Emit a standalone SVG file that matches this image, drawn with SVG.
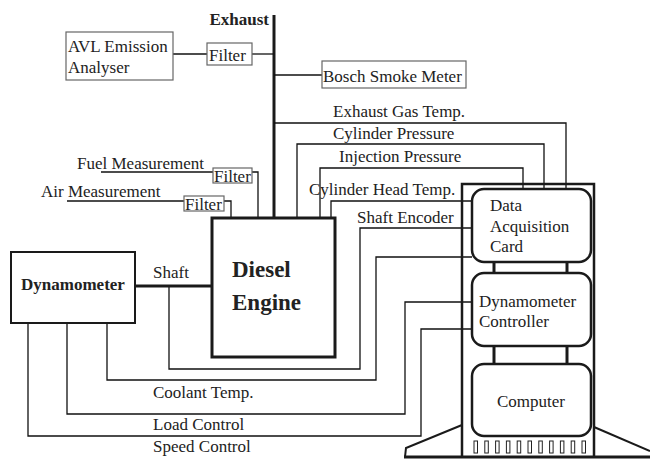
<svg xmlns="http://www.w3.org/2000/svg" width="650" height="459" viewBox="0 0 650 459">
<style>
text{font-family:"Liberation Serif","Times New Roman",serif;font-size:17px;fill:#222}
.b{font-weight:bold}
.big{font-size:23px;font-weight:bold}
.w{fill:none;stroke:#111;stroke-width:1.3}
.gbox{fill:#fff;stroke:#666;stroke-width:1.2}
.thick{fill:none;stroke:#1a1a1a;stroke-width:3}
.rb{fill:#fff;stroke:#1a1a1a;stroke-width:2.5}
.tw{fill:none;stroke:#1a1a1a;stroke-width:2.5}
.slot{fill:#fff;stroke:#222;stroke-width:1}
</style>
<rect width="650" height="459" fill="#fff"/>

<g id="connectors">
  <line class="thick" x1="274" y1="15" x2="274" y2="218"/>
  <polyline class="w" points="173,54 207,54"/>
  <polyline class="w" points="252,54 274,54"/>
  <polyline class="w" points="274,75 322,75"/>
  <polyline class="w" points="274,123 566,123 566,189"/>
  <polyline class="w" points="297,218 297,144 544,144 544,189"/>
  <polyline class="w" points="320,218 320,168 523,168 523,189"/>
  <polyline class="w" points="331,218 331,201 472,201"/>
  <polyline class="w" points="472,228 360,228 360,369 169,369 169,286"/>
  <polyline class="w" points="472,257 376,257 376,380 107,380 107,323"/>
  <polyline class="w" points="472,302 405,302 405,414 67,414 67,323"/>
  <polyline class="w" points="472,329 421,329 421,436 28,436 28,323"/>
  <polyline class="w" points="101,172 213,172"/>
  <polyline class="w" points="252,172 258,172 258,218"/>
  <polyline class="w" points="67,201 184,201"/>
  <polyline class="w" points="224,201 231,201 231,218"/>
  <line class="thick" x1="135" y1="286" x2="212" y2="286"/>
  <line x1="494" y1="262" x2="494" y2="274" stroke="#1a1a1a" stroke-width="3"/>
  <line x1="567" y1="262" x2="567" y2="274" stroke="#1a1a1a" stroke-width="3"/>
  <line x1="494" y1="346" x2="494" y2="365" stroke="#1a1a1a" stroke-width="3"/>
  <line x1="567" y1="346" x2="567" y2="365" stroke="#1a1a1a" stroke-width="3"/>
</g>

<text class="b" x="269" y="25" text-anchor="end">Exhaust</text>

<g id="avl">
  <rect class="gbox" x="66" y="32" width="107" height="48"/>
  <text x="68" y="52">AVL Emission</text>
  <text x="68" y="73">Analyser</text>
</g>
<g id="filter-exhaust">
  <rect class="gbox" x="207" y="43" width="45" height="22"/>
  <text x="209" y="61">Filter</text>
</g>
<g id="bosch">
  <rect class="gbox" x="322" y="61" width="144" height="27"/>
  <text x="323" y="82">Bosch Smoke Meter</text>
</g>

<g id="labels">
  <text x="333" y="117">Exhaust Gas Temp.</text>
  <text x="333" y="139">Cylinder Pressure</text>
  <text x="339" y="162">Injection Pressure</text>
  <text x="309" y="195">Cylinder Head Temp.</text>
  <text x="357" y="223">Shaft Encoder</text>
  <text x="77" y="169">Fuel Measurement</text>
  <text x="41" y="197">Air Measurement</text>
  <text x="153" y="278">Shaft</text>
  <text x="153" y="398">Coolant Temp.</text>
  <text x="153" y="430">Load Control</text>
  <text x="153" y="452">Speed Control</text>
</g>

<g id="filter-fuel">
  <rect class="gbox" x="213" y="168" width="39" height="15"/>
  <text x="214" y="182">Filter</text>
</g>
<g id="filter-air">
  <rect class="gbox" x="184" y="196" width="40" height="15"/>
  <text x="185" y="210">Filter</text>
</g>

<g id="dynamometer">
  <rect x="11" y="252" width="124" height="71" fill="#fff" stroke="#1a1a1a" stroke-width="2"/>
  <text class="b" x="73" y="290" text-anchor="middle">Dynamometer</text>
</g>

<g id="engine">
  <rect x="212" y="218" width="123" height="139" fill="#fff" stroke="#1a1a1a" stroke-width="3"/>
  <text class="big" x="232" y="277">Diesel</text>
  <text class="big" x="232" y="310">Engine</text>
</g>

<g id="tower">
  <polyline class="tw" points="462,457 462,184 594,184 594,457"/>
  <polyline points="462,425 406,448 405,457" fill="none" stroke="#1a1a1a" stroke-width="2"/>
  <polyline points="594,427 650,451" fill="none" stroke="#1a1a1a" stroke-width="2"/>
  <line x1="404" y1="457" x2="650" y2="457" stroke="#1a1a1a" stroke-width="3"/>
  <g class="slot">
    <rect x="474" y="441" width="3.5" height="12"/>
    <rect x="484.8" y="441" width="3.5" height="12"/>
    <rect x="495.6" y="441" width="3.5" height="12"/>
    <rect x="506.4" y="441" width="3.5" height="12"/>
    <rect x="517.2" y="441" width="3.5" height="12"/>
    <rect x="528" y="441" width="3.5" height="12"/>
    <rect x="538.8" y="441" width="3.5" height="12"/>
    <rect x="549.6" y="441" width="3.5" height="12"/>
    <rect x="560.4" y="441" width="3.5" height="12"/>
    <rect x="571.2" y="441" width="3.5" height="12"/>
    <rect x="582" y="441" width="3.5" height="12"/>
  </g>
</g>

<g id="daq">
  <rect class="rb" x="472" y="189" width="119" height="73" rx="12"/>
  <text x="490" y="211">Data</text>
  <text x="490" y="232">Acquisition</text>
  <text x="490" y="252">Card</text>
</g>
<g id="controller">
  <rect class="rb" x="472" y="273" width="119" height="73" rx="12"/>
  <text x="479" y="307">Dynamometer</text>
  <text x="479" y="327">Controller</text>
</g>
<g id="computer">
  <rect class="rb" x="472" y="364" width="119" height="72" rx="12"/>
  <text x="531" y="407" text-anchor="middle">Computer</text>
</g>
</svg>
